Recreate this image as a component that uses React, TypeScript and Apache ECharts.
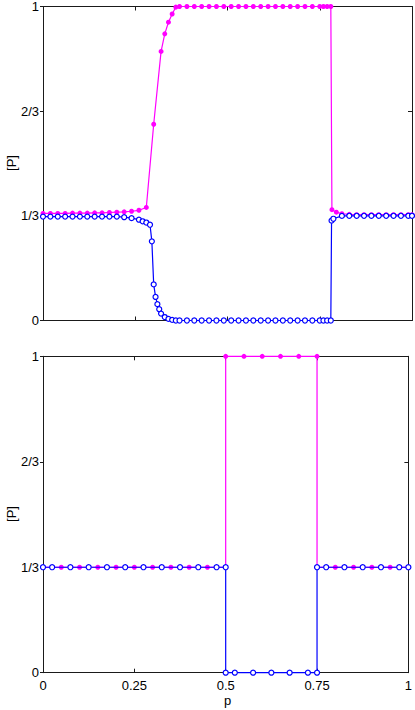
import React, { useEffect, useRef } from "react";
import * as echarts from "echarts";

// ---------- data ----------
// top panel, magenta (filled dots)
const topMagentaP = [0, 0.02, 0.04, 0.06, 0.08, 0.1, 0.12, 0.14, 0.16, 0.18, 0.2, 0.22, 0.24, 0.26, 0.28,
  0.3, 0.32, 0.33, 0.34, 0.35, 0.36, 0.37,
  0.39, 0.41, 0.43, 0.45, 0.47, 0.49, 0.51, 0.53, 0.55, 0.57, 0.59, 0.61, 0.63, 0.65, 0.67, 0.69, 0.71, 0.73, 0.75,
  0.76, 0.77, 0.78, 0.783, 0.795,
  0.81, 0.83, 0.85, 0.87, 0.89, 0.91, 0.93, 0.95, 0.97, 0.99, 1];
const topMagentaV = [0.341, 0.341, 0.341, 0.341, 0.342, 0.342, 0.342, 0.343, 0.343, 0.344, 0.345, 0.346, 0.348, 0.351, 0.36,
  0.625, 0.857, 0.913, 0.95, 0.976, 0.998, 1,
  1, 1, 1, 1, 1, 1, 1, 1, 1, 1, 1, 1, 1, 1, 1, 1, 1, 1, 1,
  1, 1, 1, 0.353, 0.345,
  0.34, 0.338, 0.337, 0.337, 0.337, 0.337, 0.337, 0.337, 0.337, 0.337, 0.337];

// top panel, blue (open circles)
const topBlueP = [0, 0.02, 0.04, 0.06, 0.08, 0.1, 0.12, 0.14, 0.16, 0.18, 0.2, 0.22, 0.24, 0.26,
  0.27, 0.28, 0.29, 0.295, 0.3, 0.305, 0.31, 0.315, 0.32, 0.33, 0.34, 0.35, 0.36, 0.37,
  0.39, 0.41, 0.43, 0.45, 0.47, 0.49, 0.51, 0.53, 0.55, 0.57, 0.59, 0.61, 0.63, 0.65, 0.67, 0.69, 0.71, 0.73, 0.75,
  0.76, 0.77, 0.78, 0.782, 0.787,
  0.81, 0.83, 0.85, 0.87, 0.89, 0.91, 0.93, 0.95, 0.97, 0.99, 1];
const topBlueV = [0.331, 0.331, 0.331, 0.331, 0.331, 0.331, 0.331, 0.331, 0.331, 0.331, 0.331, 0.329, 0.326, 0.321,
  0.316, 0.312, 0.305, 0.252, 0.115, 0.075, 0.052, 0.036, 0.022, 0.011, 0.005, 0.002, 0, 0,
  0, 0, 0, 0, 0, 0, 0, 0, 0, 0, 0, 0, 0, 0, 0, 0, 0, 0, 0,
  0, 0, 0, 0.318, 0.324,
  0.333, 0.3335, 0.3335, 0.3335, 0.3335, 0.3335, 0.3335, 0.3335, 0.3335, 0.3335, 0.3335];

// bottom panel, magenta
const botMagentaP = [0, 0.05, 0.1, 0.15, 0.2, 0.25, 0.3, 0.35, 0.4, 0.45, 0.5,
  0.5, 0.55, 0.6, 0.65, 0.7, 0.75,
  0.75, 0.8, 0.85, 0.9, 0.95, 1];
const botMagentaV = [0.33333, 0.33333, 0.33333, 0.33333, 0.33333, 0.33333, 0.33333, 0.33333, 0.33333, 0.33333, 0.33333,
  1, 1, 1, 1, 1, 1,
  0.33333, 0.33333, 0.33333, 0.33333, 0.33333, 0.33333];

// bottom panel, blue
const botBlueP = [0, 0.025, 0.075, 0.125, 0.175, 0.225, 0.275, 0.325, 0.375, 0.425, 0.475, 0.5,
  0.5, 0.525, 0.575, 0.625, 0.675, 0.725, 0.75,
  0.75, 0.775, 0.825, 0.875, 0.925, 0.975, 1];
const botBlueV = [0.33333, 0.33333, 0.33333, 0.33333, 0.33333, 0.33333, 0.33333, 0.33333, 0.33333, 0.33333, 0.33333, 0.33333,
  0, 0, 0, 0, 0, 0, 0,
  0.33333, 0.33333, 0.33333, 0.33333, 0.33333, 0.33333, 0.33333];

const xTicks = [0, 0.25, 0.5, 0.75, 1];
const yTickLabels = ["0", "1/3", "2/3", "1"];
const yAxisName = "[P]";
const xAxisName = "p";

const MAGENTA = "#ff00ff";
const BLUE = "#0000ff";
const AXIS = "#1a1a1a";
const FONT = "Liberation Sans, Arial, sans-serif";

function pairs(xs: number[], ys: number[]) {
  return xs.map((x, i) => [x, ys[i]]);
}

export default function App() {
  const ref = useRef<HTMLDivElement>(null);
  useEffect(() => {
    if (!ref.current) return;
    const chart = echarts.init(ref.current, undefined, { renderer: "svg" });
    const grids = [
      { left: 43, top: 4.7, width: 369, height: 315.8 },
      { left: 43, top: 356.3, width: 369, height: 316.4 },
    ];
    const xAxes: any[] = [];
    const yAxes: any[] = [];
    grids.forEach((_, gi) => {
      const base = {
        type: "value",
        gridIndex: gi,
        min: 0,
        max: 1,
        interval: 0.25,
        splitLine: { show: false },
        axisLine: { show: true, onZero: false, lineStyle: { color: AXIS, width: 1 } },
        axisTick: { show: true, inside: true, length: 4, lineStyle: { color: AXIS } },
      };
      xAxes.push({
        ...base,
        position: "bottom",
        axisLabel: {
          show: gi === 1,
          margin: 6,
          color: "#000",
          fontSize: 13,
          fontFamily: FONT,
          formatter: (v: number) => {
            const i = xTicks.findIndex((t) => Math.abs(t - v) < 1e-6);
            return i >= 0 ? String(xTicks[i]) : "";
          },
        },
      });
      xAxes.push({ ...base, position: "top", axisLabel: { show: false } });
      const ybase = {
        type: "value",
        gridIndex: gi,
        min: 0,
        max: 1,
        interval: 1 / 3,
        splitLine: { show: false },
        axisLine: { show: true, onZero: false, lineStyle: { color: AXIS, width: 1 } },
      };
      yAxes.push({
        ...ybase,
        position: "left",
        axisTick: { show: true, inside: false, length: 3, lineStyle: { color: AXIS } },
        axisLabel: {
          show: true,
          margin: 4,
          color: "#000",
          fontSize: 13,
          fontFamily: FONT,
          formatter: (v: number) => yTickLabels[Math.round(v * 3)] ?? "",
        },
      });
      yAxes.push({
        ...ybase,
        position: "right",
        axisTick: { show: true, inside: true, length: 4, lineStyle: { color: AXIS } },
        axisLabel: { show: false },
      });
    });

    const magentaSeries = (xs: number[], ys: number[], gi: number) => ({
      type: "line",
      xAxisIndex: gi * 2,
      yAxisIndex: gi * 2,
      data: pairs(xs, ys),
      symbol: "circle",
      symbolSize: 5,
      showSymbol: true,
      showAllSymbol: true,
      clip: false,
      lineStyle: { color: MAGENTA, width: 1.2 },
      itemStyle: { color: MAGENTA, borderWidth: 0 },
      emphasis: { disabled: true },
      silent: true,
      z: 2,
    });
    const blueSeries = (xs: number[], ys: number[], gi: number) => ({
      type: "line",
      xAxisIndex: gi * 2,
      yAxisIndex: gi * 2,
      data: pairs(xs, ys),
      symbol: "circle",
      symbolSize: 5,
      showSymbol: true,
      showAllSymbol: true,
      clip: false,
      lineStyle: { color: BLUE, width: 1.2 },
      itemStyle: { color: "#ffffff", borderColor: BLUE, borderWidth: 1.2 },
      emphasis: { disabled: true },
      silent: true,
      z: 3,
    });

    chart.setOption({
      animation: false,
      backgroundColor: "#ffffff",
      grid: grids,
      xAxis: xAxes,
      yAxis: yAxes,
      series: [
        magentaSeries(topMagentaP, topMagentaV, 0),
        blueSeries(topBlueP, topBlueV, 0),
        magentaSeries(botMagentaP, botMagentaV, 1),
        blueSeries(botBlueP, botBlueV, 1),
      ],
      graphic: [
        {
          type: "text",
          x: 11,
          y: 163,
          rotation: Math.PI / 2,
          style: { text: yAxisName, fill: "#000", font: `13px ${FONT}`, textAlign: "center", textVerticalAlign: "middle" },
        },
        {
          type: "text",
          x: 11,
          y: 514,
          rotation: Math.PI / 2,
          style: { text: yAxisName, fill: "#000", font: `13px ${FONT}`, textAlign: "center", textVerticalAlign: "middle" },
        },
        {
          type: "text",
          x: 227.5,
          y: 700,
          style: { text: xAxisName, fill: "#000", font: `13px ${FONT}`, textAlign: "center", textVerticalAlign: "middle" },
        },
      ],
    });
    return () => chart.dispose();
  }, []);
  return (
    <div
      ref={ref}
      style={{ position: "fixed", left: 0, top: 0, width: 415, height: 710, background: "#fff" }}
    />
  );
}
